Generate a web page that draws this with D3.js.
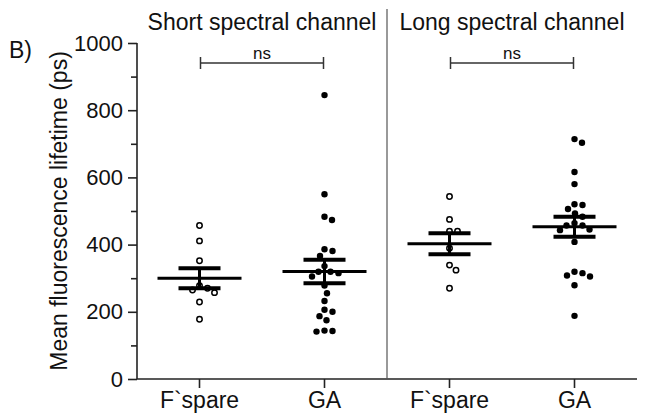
<!DOCTYPE html>
<html>
<head>
<meta charset="utf-8">
<script src="https://cdn.jsdelivr.net/npm/d3@7"></script>
<style>
    body { margin: 0; background: white; }
    text { font-family: "Liberation Sans", Arial, sans-serif; fill: #111; }
</style>
</head>
<body>
<div id="chart"></div>
<script>
(function(){

    // data (ps)
    var groups = ["shortFs", "shortGA", "longFs", "longGA"];
    var groupLabels = ["F`spare", "GA", "F`spare", "GA"];
    var openGroups = ["shortFs", "longFs"];

    var shortFs = [457, 411, 352, 278, 257, 265, 270, 229, 178];
    var shortGA = [845, 550, 473, 483, 381, 386, 366, 336, 319, 315, 319, 305,
                   278, 255, 232, 206, 200, 187, 175, 144, 141, 143];
    var longFs = [543, 475, 440, 440, 389, 339, 324, 270];
    var longGA = [714, 703, 616, 580, 520, 506, 518, 493, 483, 457, 464, 457,
                  443, 445, 408, 319, 305, 308, 315, 279, 188];

    var panelTitles = ["Short spectral channel", "Long spectral channel"];
    var comparisons = [["shortFs", "shortGA"], ["longFs", "longGA"]];
    var yTicks = [0, 200, 400, 600, 800, 1000];
    var yMinorTicks = [100, 300, 500, 700, 900];

    var values = { shortFs: shortFs, shortGA: shortGA, longFs: longFs, longGA: longGA };

    var width = 650, height = 414;

    var svg = d3.select("#chart").append("svg")
        .attr("width", width)
        .attr("height", height);

    var x = d3.scaleBand().domain(groups).range([137, 637]),
        y = d3.scaleLinear().domain([0, 1000]).range([379, 43]);

    var cx = function (g) { return x(g) + x.bandwidth() / 2; };

    // beeswarm offsets (no overlap between dots)
    function swarm(vals, diam) {
        var placed = [];
        var sorted = vals.slice().sort(function (a, b) { return b - a; });
        sorted.forEach(function (v) {
            var py = y(v), off = 0, k;
            for (k = 0; k < 60; k += 0.5) {
                var cands = k === 0 ? [0] : [k, -k];
                var ok = cands.filter(function (c) {
                    return placed.every(function (p) {
                        var dx = p.dx - c, dy = p.py - py;
                        return dx * dx + dy * dy >= diam * diam;
                    });
                });
                if (ok.length) { off = ok[0]; break; }
            }
            placed.push({ v: v, py: py, dx: off });
        });
        return placed;
    }

    /////////////////////////////////////////////////////////////////////////

    // AXES /////////////////////////////////////////////////////////////////

    /////////////////////////////////////////////////////////////////////////

    var yAxis = svg.append("g")
        .attr("transform", "translate(137,0)")
        .call(d3.axisLeft(y).tickValues(yTicks).tickSize(9).tickPadding(5).tickFormat(d3.format("d")));

    svg.append("g")
        .attr("transform", "translate(137,0)")
        .call(d3.axisLeft(y).tickValues(yMinorTicks).tickSize(6).tickFormat(""))
        .select(".domain").remove();

    var xAxis = svg.append("g")
        .attr("transform", "translate(0," + y(0) + ")")
        .call(d3.axisBottom(x).tickSize(9).tickPadding(4).tickFormat(function (d, i) { return groupLabels[i]; }));

    svg.selectAll(".domain, .tick line")
        .attr("stroke", "#222")
        .attr("stroke-width", 1.6);
    xAxis.select(".domain").attr("d", "M137,0H637");
    yAxis.select(".domain").attr("d", "M0," + y(1000) + "V" + y(0));

    yAxis.selectAll(".tick text").style("font-size", "22px");
    xAxis.selectAll(".tick text").style("font-size", "23px");
    svg.selectAll(".tick text")
        .style("font-family", "'Liberation Sans', Arial, sans-serif")
        .attr("fill", "#111");

    // y label
    svg.append("text")
        .attr("transform", "translate(67,211) rotate(-90)")
        .attr("text-anchor", "middle")
        .style("font-size", "23px")
        .text("Mean fluorescence lifetime (ps)");

    svg.append("text")
        .attr("x", 9).attr("y", 58)
        .style("font-size", "23px")
        .text("B)");

    // panel divider + titles
    svg.append("line")
        .attr("x1", x("longFs")).attr("x2", x("longFs"))
        .attr("y1", 9).attr("y2", y(0))
        .attr("stroke", "#555").attr("stroke-width", 1.2);

    panelTitles.forEach(function (t, i) {
        var a = comparisons[i][0], b = comparisons[i][1];
        svg.append("text")
            .attr("x", (x(a) + x(b) + x.bandwidth()) / 2)
            .attr("y", 30)
            .attr("text-anchor", "middle")
            .style("font-size", "23px")
            .text(t);
    });

    // ns brackets
    comparisons.forEach(function (c) {
        var x1 = cx(c[0]) + 1, x2 = cx(c[1]) - 1, by = 63;
        var br = svg.append("g").attr("stroke", "#333").attr("stroke-width", 1.5);
        br.append("line").attr("x1", x1).attr("x2", x2).attr("y1", by).attr("y2", by);
        br.append("line").attr("x1", x1).attr("x2", x1).attr("y1", by - 6).attr("y2", by + 6);
        br.append("line").attr("x1", x2).attr("x2", x2).attr("y1", by - 6).attr("y2", by + 6);
        svg.append("text")
            .attr("x", (x1 + x2) / 2).attr("y", 59)
            .attr("text-anchor", "middle")
            .style("font-size", "17px")
            .attr("fill", "#333")
            .text("ns");
    });

    /////////////////////////////////////////////////////////////////////////

    // POINTS + MEAN/SEM ////////////////////////////////////////////////////

    /////////////////////////////////////////////////////////////////////////

    groups.forEach(function (g) {
        var isOpen = openGroups.indexOf(g) > -1;
        var pts = swarm(values[g], 8);

        svg.append("g").selectAll("circle")
            .data(pts)
            .enter().append("circle")
            .attr("cx", function (d) { return cx(g) + d.dx; })
            .attr("cy", function (d) { return d.py; })
            .attr("r", isOpen ? 2.7 : 3.2)
            .attr("fill", isOpen ? "white" : "black")
            .attr("stroke", "black")
            .attr("stroke-width", isOpen ? 1.5 : 0);

        var m = d3.mean(values[g]),
            sem = d3.deviation(values[g]) / Math.sqrt(values[g].length);
        var bars = svg.append("g").attr("stroke", "black");
        bars.append("line")
            .attr("x1", cx(g)).attr("x2", cx(g))
            .attr("y1", y(m + sem)).attr("y2", y(m - sem))
            .attr("stroke-width", 3);
        bars.append("line")
            .attr("x1", cx(g) - 42).attr("x2", cx(g) + 42)
            .attr("y1", y(m)).attr("y2", y(m))
            .attr("stroke-width", 3);
        [m + sem, m - sem].forEach(function (v) {
            bars.append("line")
                .attr("x1", cx(g) - 21).attr("x2", cx(g) + 21)
                .attr("y1", y(v)).attr("y2", y(v))
                .attr("stroke-width", 4);
        });
    });

})();
</script>
</body>
</html>
